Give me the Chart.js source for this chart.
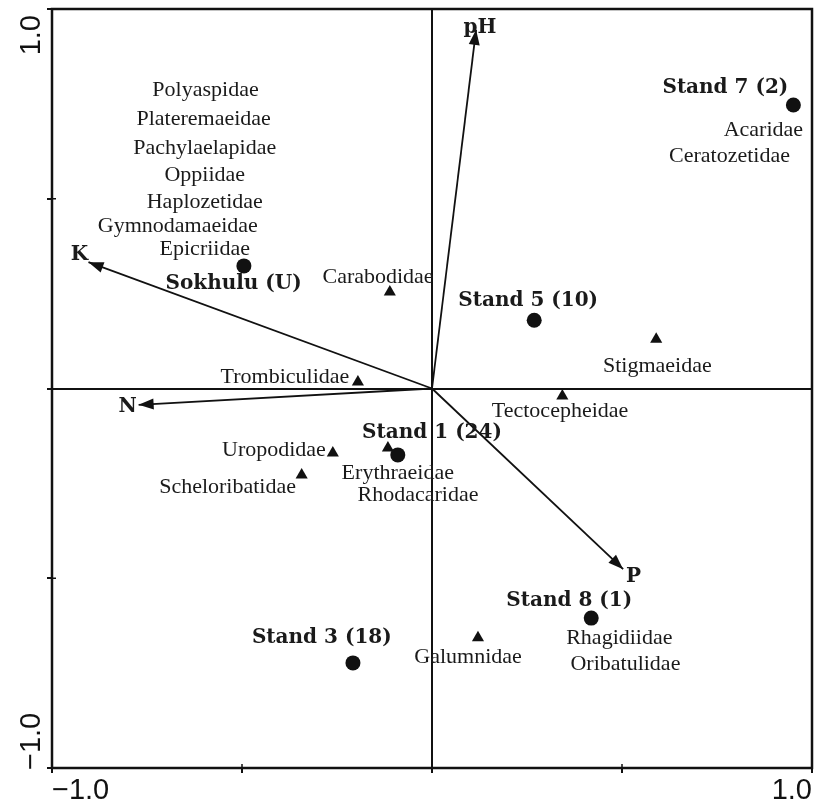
<!DOCTYPE html>
<html>
<head>
<meta charset="utf-8">
<script src="https://cdn.jsdelivr.net/npm/chart.js@4.4.1/dist/chart.umd.min.js"></script>
<style>
  html, body { margin: 0; padding: 0; background: #fff; }
  canvas { display: block; }
</style>
</head>
<body>
<canvas id="ordination" width="826" height="806"></canvas>
<script>

// sites (filled circles)
const stand_names = ["Sokhulu (U)", "Stand 7 (2)", "Stand 5 (10)", "Stand 1 (24)", "Stand 8 (1)", "Stand 3 (18)"];
const stand_x = [-0.495, 0.951, 0.269, -0.090, 0.419, -0.208];
const stand_y = [0.323, 0.747, 0.180, -0.175, -0.605, -0.723];

// mite families (triangles)
const family_names = ["Carabodidae", "Stigmaeidae", "Trombiculidae", "Tectocepheidae", "Uropodidae", "Erythraeidae", "Scheloribatidae", "Galumnidae"];
const family_x = [-0.111, 0.590, -0.195, 0.343, -0.261, -0.116, -0.343, 0.121];
const family_y = [0.254, 0.130, 0.017, -0.020, -0.170, -0.157, -0.228, -0.657];

// soil variables (arrows from origin)
const vector_names = ["pH", "K", "N", "P"];
const vector_x = [0.116, -0.904, -0.772, 0.503];
const vector_y = [0.945, 0.333, -0.043, -0.476];

// text annotations, in axis units
const note_text = ["Polyaspidae", "Plateremaeidae", "Pachylaelapidae", "Oppiidae", "Haplozetidae", "Gymnodamaeidae", "Epicriidae",
    "Carabodidae", "Acaridae", "Ceratozetidae", "Stigmaeidae", "Trombiculidae", "Tectocepheidae", "Uropodidae",
    "Erythraeidae", "Rhodacaridae", "Scheloribatidae", "Rhagidiidae", "Oribatulidae", "Galumnidae"];
const note_x = [-0.596, -0.601, -0.598, -0.598, -0.598, -0.669, -0.598,
    -0.142, 0.872, 0.783, 0.593, -0.387, 0.337, -0.416,
    -0.090, -0.037, -0.538, 0.493, 0.509, 0.095];
const note_y = [0.787, 0.710, 0.634, 0.563, 0.491, 0.428, 0.368,
    0.294, 0.681, 0.613, 0.059, 0.030, -0.059, -0.162,
    -0.223, -0.281, -0.260, -0.657, -0.726, -0.708];

const stand_label_x = [-0.522, 0.772, 0.253, 0.000, 0.361, -0.290];
const stand_label_y = [0.275, 0.792, 0.231, -0.117, -0.560, -0.657];
const vector_label_x = [0.126, -0.928, -0.801, 0.530];
const vector_label_y = [0.950, 0.352, -0.049, -0.497];

const tick_values = [-1, -0.5, 0, 0.5, 1];
const tick_labels = ["\u22121.0", "", "", "", "1.0"];

const serif = "'Liberation Serif', 'DejaVu Serif', serif";
const bold_serif = "'DejaVu Serif', serif";

function tickText(value) {
    const i = tick_values.indexOf(value);
    return i >= 0 ? tick_labels[i] : "";
}

let datasets = [];

for (let i = 0; i < vector_names.length; i++) {
    datasets.push({
        label: vector_names[i],
        data: [{x: 0, y: 0}, {x: vector_x[i], y: vector_y[i]}],
        showLine: true,
        borderColor: "#111",
        borderWidth: 1.8,
        pointRadius: 0
    });
}

datasets.push({
    label: "Stands",
    data: stand_x.map((x, i) => ({x: x, y: stand_y[i]})),
    pointStyle: "circle",
    pointRadius: 7.5,
    backgroundColor: "#111",
    borderColor: "#111",
    borderWidth: 0
});

datasets.push({
    label: "Families",
    data: family_x.map((x, i) => ({x: x, y: family_y[i]})),
    pointStyle: "triangle",
    pointRadius: 7,
    backgroundColor: "#111",
    borderColor: "#111",
    borderWidth: 0
});

// frame, arrow heads, annotations and the rotated y labels
const ordinationExtras = {
    id: "ordinationExtras",
    beforeDatasetsDraw(chart) {
        const {ctx, chartArea} = chart;
        ctx.save();
        ctx.strokeStyle = "#111";
        ctx.lineWidth = 2.5;
        ctx.strokeRect(chartArea.left, chartArea.top, chartArea.right - chartArea.left, chartArea.bottom - chartArea.top);
        // short ticks on the inner side too, so they cross the frame
        ctx.lineWidth = 1.5;
        ctx.beginPath();
        for (const v of [-0.5, 0.5]) {
            const px = chart.scales.x.getPixelForValue(v);
            const py = chart.scales.y.getPixelForValue(v);
            ctx.moveTo(px, chartArea.bottom);
            ctx.lineTo(px, chartArea.bottom - 4);
            ctx.moveTo(chartArea.left, py);
            ctx.lineTo(chartArea.left + 4, py);
        }
        ctx.stroke();
        ctx.restore();
    },
    afterDatasetsDraw(chart) {
        const {ctx, chartArea} = chart;
        const xs = chart.scales.x;
        const ys = chart.scales.y;
        ctx.save();

        // arrow heads
        ctx.fillStyle = "#111";
        const x0 = xs.getPixelForValue(0);
        const y0 = ys.getPixelForValue(0);
        for (let i = 0; i < vector_names.length; i++) {
            const tx = xs.getPixelForValue(vector_x[i]);
            const ty = ys.getPixelForValue(vector_y[i]);
            const a = Math.atan2(ty - y0, tx - x0);
            const len = 15, half = 5.5;
            ctx.beginPath();
            ctx.moveTo(tx, ty);
            ctx.lineTo(tx - len * Math.cos(a) + half * Math.sin(a), ty - len * Math.sin(a) - half * Math.cos(a));
            ctx.lineTo(tx - len * Math.cos(a) - half * Math.sin(a), ty - len * Math.sin(a) + half * Math.cos(a));
            ctx.closePath();
            ctx.fill();
        }

        ctx.textAlign = "center";
        ctx.textBaseline = "middle";
        ctx.fillStyle = "#1a1a1a";

        ctx.font = "22px " + serif;
        for (let i = 0; i < note_text.length; i++) {
            ctx.fillText(note_text[i], xs.getPixelForValue(note_x[i]), ys.getPixelForValue(note_y[i]));
        }

        ctx.font = "bold 20px " + bold_serif;
        for (let i = 0; i < stand_names.length; i++) {
            ctx.fillText(stand_names[i], xs.getPixelForValue(stand_label_x[i]), ys.getPixelForValue(stand_label_y[i]));
        }
        for (let i = 0; i < vector_names.length; i++) {
            ctx.fillText(vector_names[i], xs.getPixelForValue(vector_label_x[i]), ys.getPixelForValue(vector_label_y[i]));
        }

        // y tick labels, rotated, pulled inside the axis range
        ctx.font = "29px 'Liberation Sans', Arial, sans-serif";
        ctx.textBaseline = "alphabetic";
        ctx.fillStyle = "#111";
        for (let i = 0; i < tick_values.length; i++) {
            if (!tick_labels[i]) continue;
            const py = ys.getPixelForValue(tick_values[i]);
            ctx.save();
            ctx.translate(chartArea.left - 12, py);
            ctx.rotate(-Math.PI / 2);
            ctx.textAlign = tick_values[i] === ys.max ? "right" : "left";
            ctx.fillText(tick_labels[i], tick_values[i] === ys.max ? -6 : -2, 0);
            ctx.restore();
        }
        ctx.restore();
    }
};

const axisGrid = {
    color: (c) => (c.tick && c.tick.value === 0) ? "#111" : "rgba(0,0,0,0)",
    lineWidth: 2,
    tickColor: "#111",
    tickLength: 5,
    drawTicks: true
};

const config = {
    type: "scatter",
    data: {datasets: datasets},
    options: {
        responsive: false,
        animation: false,
        devicePixelRatio: 1,
        layout: {
            padding: {top: 9, right: 14, left: 0, bottom: 0}
        },
        plugins: {
            legend: {display: false},
            tooltip: {enabled: false}
        },
        scales: {
            x: {
                type: "linear",
                min: -1,
                max: 1,
                afterFit: (scale) => { scale.height = 38; },
                ticks: {
                    stepSize: 0.5,
                    autoSkip: false,
                    maxRotation: 0,
                    align: "inner",
                    padding: 1,
                    color: "#111",
                    font: {family: "'Liberation Sans', Arial, sans-serif", size: 29},
                    callback: (v) => tickText(v)
                },
                grid: axisGrid,
                border: {display: false}
            },
            y: {
                type: "linear",
                min: -1,
                max: 1,
                afterFit: (scale) => { scale.width = 52; },
                ticks: {
                    stepSize: 0.5,
                    display: false
                },
                grid: axisGrid,
                border: {display: false}
            }
        }
    },
    plugins: [ordinationExtras]
};

new Chart(document.getElementById("ordination").getContext("2d"), config);
</script>
</body>
</html>
